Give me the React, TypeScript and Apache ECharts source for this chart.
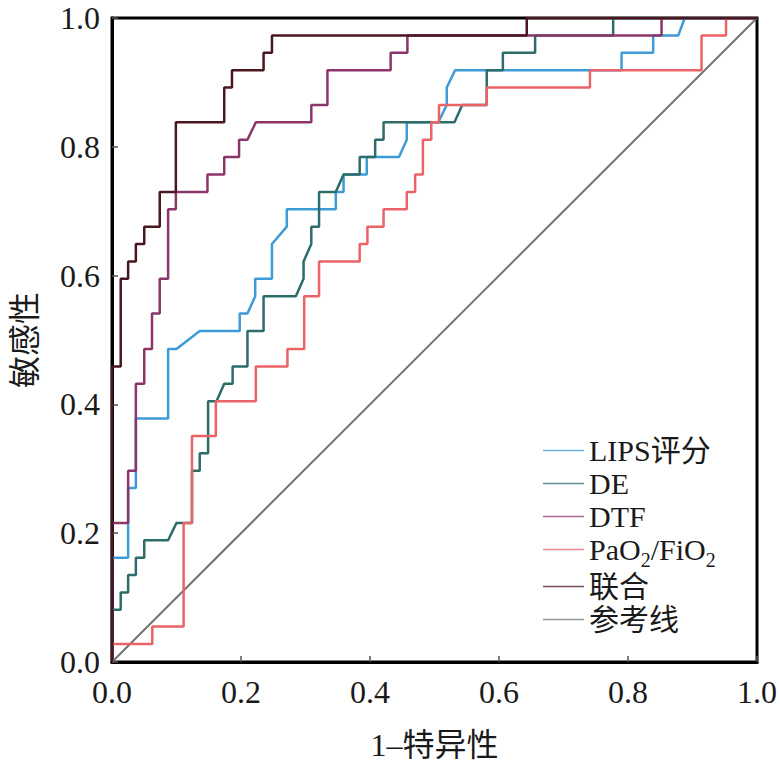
import React, { useEffect, useRef } from "react";
import * as echarts from "echarts";

// ROC step curves: x = 1 - specificity, y = sensitivity
const lipsX = [0, 0, 0.025, 0.025, 0.037, 0.037, 0.087, 0.087, 0.1, 0.136, 0.198, 0.198, 0.21, 0.222, 0.222, 0.248, 0.248, 0.271, 0.271, 0.347, 0.347, 0.359, 0.359, 0.395, 0.395, 0.445, 0.457, 0.457, 0.506, 0.519, 0.519, 0.532, 0.79, 0.79, 0.839, 0.839, 0.878, 0.888, 1];
const lipsY = [0, 0.162, 0.162, 0.27, 0.27, 0.378, 0.378, 0.486, 0.486, 0.514, 0.514, 0.541, 0.541, 0.568, 0.595, 0.595, 0.649, 0.676, 0.703, 0.703, 0.73, 0.73, 0.757, 0.757, 0.784, 0.784, 0.811, 0.838, 0.838, 0.865, 0.892, 0.919, 0.919, 0.946, 0.946, 0.973, 0.973, 1, 1];

const deX = [0, 0, 0.0135, 0.0135, 0.025, 0.025, 0.037, 0.037, 0.05, 0.05, 0.087, 0.1, 0.124, 0.124, 0.136, 0.136, 0.149, 0.149, 0.162, 0.174, 0.187, 0.187, 0.21, 0.21, 0.235, 0.235, 0.285, 0.297, 0.297, 0.309, 0.309, 0.321, 0.321, 0.347, 0.359, 0.384, 0.384, 0.408, 0.408, 0.421, 0.421, 0.531, 0.543, 0.581, 0.581, 0.606, 0.606, 0.656, 0.656, 0.777, 0.777, 1];
const deY = [0, 0.081, 0.081, 0.108, 0.108, 0.135, 0.135, 0.162, 0.162, 0.189, 0.189, 0.216, 0.216, 0.297, 0.297, 0.324, 0.324, 0.405, 0.405, 0.432, 0.432, 0.459, 0.459, 0.514, 0.514, 0.568, 0.568, 0.595, 0.622, 0.649, 0.676, 0.676, 0.73, 0.73, 0.757, 0.757, 0.784, 0.784, 0.811, 0.811, 0.838, 0.838, 0.865, 0.865, 0.919, 0.919, 0.946, 0.946, 0.973, 0.973, 1, 1];

const dtfX = [0, 0, 0.025, 0.025, 0.037, 0.037, 0.05, 0.05, 0.062, 0.062, 0.074, 0.074, 0.087, 0.087, 0.099, 0.099, 0.148, 0.148, 0.174, 0.174, 0.197, 0.197, 0.21, 0.223, 0.309, 0.309, 0.334, 0.334, 0.432, 0.432, 0.458, 0.458, 0.852, 0.852, 1];
const dtfY = [0, 0.216, 0.216, 0.297, 0.297, 0.432, 0.432, 0.486, 0.486, 0.541, 0.541, 0.595, 0.595, 0.703, 0.703, 0.73, 0.73, 0.757, 0.757, 0.784, 0.784, 0.811, 0.811, 0.838, 0.838, 0.865, 0.865, 0.919, 0.919, 0.946, 0.946, 0.973, 0.973, 1, 1];

const pafiX = [0, 0, 0.0625, 0.0625, 0.111, 0.111, 0.124, 0.124, 0.161, 0.161, 0.223, 0.223, 0.272, 0.272, 0.298, 0.298, 0.321, 0.321, 0.384, 0.384, 0.396, 0.396, 0.421, 0.421, 0.457, 0.457, 0.47, 0.47, 0.482, 0.482, 0.495, 0.495, 0.507, 0.507, 0.581, 0.581, 0.741, 0.741, 0.914, 0.914, 0.952, 0.952, 1];
const pafiY = [0, 0.028, 0.028, 0.055, 0.055, 0.216, 0.216, 0.351, 0.351, 0.405, 0.405, 0.459, 0.459, 0.486, 0.486, 0.568, 0.568, 0.622, 0.622, 0.649, 0.649, 0.676, 0.676, 0.703, 0.703, 0.73, 0.73, 0.757, 0.757, 0.811, 0.811, 0.838, 0.838, 0.865, 0.865, 0.892, 0.892, 0.919, 0.919, 0.973, 0.973, 1, 1];

const comboX = [0, 0, 0.0135, 0.0135, 0.025, 0.025, 0.037, 0.037, 0.05, 0.05, 0.074, 0.074, 0.099, 0.099, 0.174, 0.174, 0.186, 0.186, 0.235, 0.235, 0.248, 0.248, 0.643, 0.643, 1];
const comboY = [0, 0.459, 0.459, 0.595, 0.595, 0.622, 0.622, 0.649, 0.649, 0.676, 0.676, 0.73, 0.73, 0.838, 0.838, 0.892, 0.892, 0.919, 0.919, 0.946, 0.946, 0.973, 0.973, 1, 1];

const refX = [0, 1];
const refY = [0, 1];

const legendNames = ["LIPS评分", "DE", "DTF", "PaO2/FiO2", "联合", "参考线"];

const FONT = "'Liberation Serif', 'Noto Sans CJK SC', serif";

const zip = (xs: number[], ys: number[]) => xs.map((x, i) => [x, ys[i]]);

const App = () => {
  const chartRef = useRef<HTMLDivElement>(null);

  useEffect(() => {
    if (!chartRef.current) return;
    document.body.style.margin = "0";

    const chart = echarts.init(chartRef.current, null, { renderer: "svg" });

    const line = (name: string, xs: number[], ys: number[], color: string, width = 2.5) => ({
      name,
      type: "line",
      data: zip(xs, ys),
      symbol: "none",
      showSymbol: false,
      lineStyle: { color, width },
      itemStyle: { color },
    });

    const axisCommon = {
      type: "value",
      min: 0,
      max: 1,
      interval: 0.2,
      splitLine: { show: false },
      axisLine: { show: true, lineStyle: { color: "#000", width: 3 } },
      axisTick: { show: true, inside: true, length: 6, lineStyle: { color: "#555", width: 1.5 } },
      axisLabel: {
        color: "#1a1a1a",
        fontSize: 32,
        fontFamily: FONT,
        formatter: (v: number) => v.toFixed(1),
      },
      nameLocation: "middle",
      nameTextStyle: { color: "#1a1a1a", fontSize: 32, fontFamily: FONT },
    };

    const option: any = {
      animation: false,
      backgroundColor: "#fff",
      grid: {
        left: 112,
        right: 23,
        top: 18,
        bottom: 103,
        outerBoundsMode: "none",
        containLabel: false,
        show: true,
        borderColor: "#000",
        borderWidth: 3,
      },
      xAxis: {
        ...axisCommon,
        name: "1–特异性",
        nameGap: 67,
        axisLabel: { ...axisCommon.axisLabel, margin: 14 },
      },
      yAxis: {
        ...axisCommon,
        name: "敏感性",
        nameGap: 71,
        axisLabel: { ...axisCommon.axisLabel, margin: 12 },
      },
      legend: {
        data: legendNames,
        orient: "vertical",
        left: 538,
        top: 429,
        icon: "rect",
        itemWidth: 41,
        itemHeight: 1.6,
        itemGap: 0,
        selectedMode: false,
        itemStyle: { opacity: 0.75 },
        formatter: (name: string) => (name === "PaO2/FiO2" ? "PaO{s|2}/FiO{s|2}" : name),
        textStyle: {
          color: "#1a1a1a",
          fontSize: 30,
          fontFamily: FONT,
          lineHeight: 33,
          rich: {
            s: {
              fontSize: 20,
              lineHeight: 20,
              fontFamily: FONT,
              color: "#1a1a1a",
              verticalAlign: "bottom",
              padding: [10, 0, -4, 0],
            },
          },
        },
      },
      series: [
        line("参考线", refX, refY, "#737373", 2),
        line("LIPS评分", lipsX, lipsY, "#3d9bd6"),
        line("DE", deX, deY, "#2d6d69"),
        line("PaO2/FiO2", pafiX, pafiY, "#ea6366"),
        line("DTF", dtfX, dtfY, "#8c3568"),
        line("联合", comboX, comboY, "#4a1620"),
      ],
    };

    chart.setOption(option);

    return () => {
      chart.dispose();
    };
  }, []);

  return <div ref={chartRef} style={{ width: "780px", height: "765px" }} />;
};

export default App;
